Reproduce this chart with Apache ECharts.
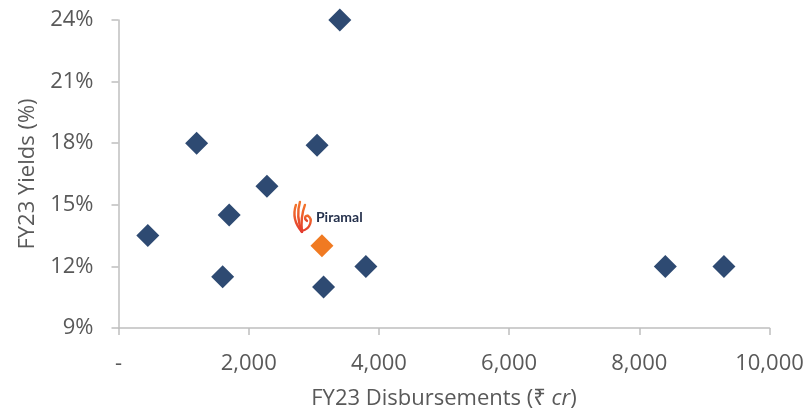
<!DOCTYPE html>
<html>
<head>
<meta charset="utf-8">
<script src="https://cdn.jsdelivr.net/npm/echarts@6/dist/echarts.min.js"></script>
<style>
  html, body { margin: 0; padding: 0; background: #fff; }
  #chart { width: 809px; height: 415px; }
</style>
</head>
<body>
<div id="chart"></div>
<script>
// FY23 disbursements (₹ cr) vs FY23 yields (%) for peer lenders
const peerDisbursements = [450, 1200, 1700, 1600, 2280, 3050, 3400, 3150, 3800, 8400, 9300];
const peerYields        = [13.5, 18.0, 14.5, 11.5, 15.9, 17.9, 24.0, 11.0, 12.0, 12.0, 12.0];

// Piramal
const piramalDisbursement = [3125];
const piramalYield        = [13.0];
const piramalName = 'Piramal';

// Axis settings
const xTicks = { min: 0, max: 10000, interval: 2000 };
const yTicks = { min: 9, max: 24, interval: 3 };
const xTitle = 'FY23 Disbursements (₹ ';
const xTitleItalic = 'cr';
const yTitle = 'FY23 Yields (%)';

const NAVY = '#2E4A72';
const ORANGE = '#F07A22';
const AXIS_GREY = '#BFBFBF';
const TEXT_GREY = '#595959';
const FONT = '"Open Sans", "Noto Sans", sans-serif';
const FS = 22;

const peerData = peerDisbursements.map((x, i) => [x, peerYields[i]]);
const piramalData = piramalDisbursement.map((x, i) => [x, piramalYield[i]]);

const chart = echarts.init(document.getElementById('chart'), null, { renderer: 'canvas' });

const axisCommon = {
  axisLine: { show: true, lineStyle: { color: AXIS_GREY, width: 1.5 } },
  axisTick: { show: true, length: 7, lineStyle: { color: AXIS_GREY, width: 1.5 } },
  splitLine: { show: false }
};

chart.setOption({
  animation: false,
  backgroundColor: '#ffffff',
  grid: { left: 118.5, right: 39.5, top: 20, bottom: 86 },
  xAxis: Object.assign({
    type: 'value',
    min: xTicks.min, max: xTicks.max, interval: xTicks.interval,
    axisLabel: {
      margin: 25, color: TEXT_GREY, fontFamily: FONT, fontSize: FS,
      formatter: v => v === 0 ? '-' : v.toLocaleString('en-US')
    },
    name: '{a|' + xTitle + '}{b|' + xTitleItalic + '}{a|)}',
    nameLocation: 'middle',
    nameGap: 60,
    nameTextStyle: {
      rich: {
        a: { color: TEXT_GREY, fontFamily: FONT, fontSize: FS },
        b: { color: TEXT_GREY, fontFamily: FONT, fontSize: FS, fontStyle: 'italic' }
      }
    }
  }, axisCommon),
  yAxis: Object.assign({
    type: 'value',
    min: yTicks.min, max: yTicks.max, interval: yTicks.interval,
    axisLabel: {
      margin: 25, color: TEXT_GREY, fontFamily: FONT, fontSize: FS,
      formatter: '{value}%'
    },
    name: yTitle,
    nameLocation: 'middle',
    nameGap: 80,
    nameRotate: 90,
    nameTextStyle: { color: TEXT_GREY, fontFamily: FONT, fontSize: FS }
  }, axisCommon),
  series: [
    {
      name: 'Peers',
      type: 'scatter',
      symbol: 'diamond',
      symbolSize: 23,
      itemStyle: { color: NAVY, opacity: 1 },
      data: peerData
    },
    {
      name: piramalName,
      type: 'scatter',
      symbol: 'diamond',
      symbolSize: 23,
      itemStyle: { color: ORANGE, opacity: 1 },
      data: piramalData
    }
  ]
});

// Piramal logo (flame mark + wordmark) placed just above its point
const p = chart.convertToPixel({ seriesIndex: 1 }, piramalData[0]);
const flameColor = new echarts.graphic.LinearGradient(0, 0, 0, 1, [
  { offset: 0, color: '#F4792B' },
  { offset: 1, color: '#E2362E' }
]);
const curves = [
  { x1: 0, y1: 0, cpx1: -7, cpy1: -8, cpx2: -9, cpy2: -18, x2: -6, y2: -27 },
  { x1: 0, y1: 0, cpx1: -4, cpy1: -10, cpx2: -5, cpy2: -20, x2: -2, y2: -30 },
  { x1: 0, y1: 0, cpx1: -1, cpy1: -10, cpx2: 0, cpy2: -19, x2: 3, y2: -27 },
  { x1: 0, y1: -1, cpx1: 9, cpy1: -3, cpx2: 11, cpy2: -13, x2: 6, y2: -16 },
  { x1: 6, y1: -16, cpx1: 3, cpy1: -17, cpx2: 2, cpy2: -13, x2: 5, y2: -11 }
];
chart.setOption({
  graphic: [
    {
      type: 'group',
      x: p[0] - 20, y: p[1] - 14,
      children: curves.map(c => ({
        type: 'bezierCurve',
        shape: c,
        style: { fill: null, stroke: flameColor, lineWidth: 2.4, lineCap: 'round' }
      }))
    },
    {
      type: 'text',
      x: p[0] - 6, y: p[1] - 28,
      style: {
        text: piramalName,
        fill: '#26324D',
        font: 'bold 14px Lato, "Open Sans", sans-serif',
        verticalAlign: 'middle',
        align: 'left'
      }
    }
  ]
});
</script>
</body>
</html>
